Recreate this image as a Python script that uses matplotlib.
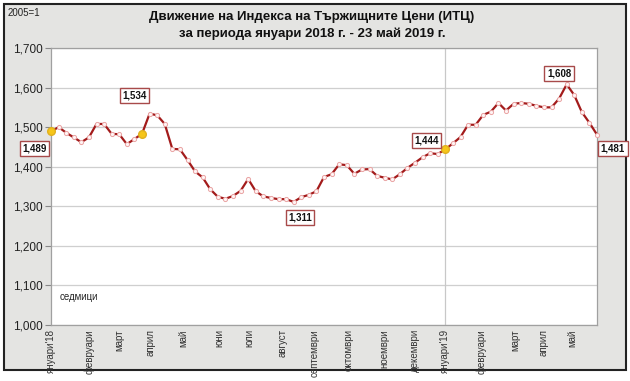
import matplotlib
matplotlib.use("Agg")
import matplotlib.pyplot as plt
from matplotlib.patches import Rectangle
from matplotlib.ticker import FuncFormatter

plt.rcParams['font.family'] = ['Liberation Sans', 'DejaVu Sans']

# weekly index values, Jan 2018 - 23 May 2019
itc = [1.489, 1.500, 1.486, 1.474, 1.462, 1.474, 1.508, 1.508, 1.483, 1.482,
       1.457, 1.470, 1.483, 1.534, 1.530, 1.508, 1.445, 1.444, 1.417, 1.388,
       1.373, 1.343, 1.324, 1.319, 1.326, 1.339, 1.369, 1.338, 1.325, 1.321,
       1.318, 1.318, 1.311, 1.323, 1.329, 1.338, 1.374, 1.381, 1.406, 1.404,
       1.382, 1.393, 1.394, 1.377, 1.372, 1.368, 1.381, 1.397, 1.410, 1.424,
       1.434, 1.432, 1.444, 1.459, 1.475, 1.506, 1.506, 1.531, 1.539, 1.561,
       1.542, 1.559, 1.561, 1.559, 1.554, 1.550, 1.550, 1.572, 1.608, 1.581,
       1.538, 1.511, 1.481]

month_labels = ["януари'18", "февруари", "март", "април", "май", "юни", "юли",
                "август", "септември", "октомври", "ноември", "декември",
                "януари'19", "февруари", "март", "април", "май"]
month_pos = [0, 5.0, 9.0, 13.1, 17.5, 22.2, 26.2, 30.5, 34.8, 39.2, 44.0,
             48.0, 52.0, 56.8, 61.2, 64.9, 68.8]

highlight_idx = [0, 12, 52]
year_split_idx = 52

# labelled points: (index, text)
labelled = [(0, "1,489"), (13, "1,534"), (32, "1,311"), (52, "1,444"),
            (68, "1,608"), (72, "1,481")]

W, H = 630, 381
fig = plt.figure(figsize=(W / 100, H / 100), dpi=100)
fig.patch.set_facecolor('white')

# gray background panel with dark frame
bg = Rectangle((4 / W, 1 - 370 / H), 622 / W, 366 / H,
               transform=fig.transFigure, facecolor='#e4e4e2',
               edgecolor='#222222', linewidth=1.5, zorder=-10)
fig.add_artist(bg)

ax = fig.add_axes([51 / W, 1 - 325 / H, 546 / W, 277 / H])
ax.set_zorder(1)
ax.set_facecolor('white')

x = list(range(len(itc)))
ax.plot(x, itc, color='#a31b1b', linewidth=1.6, zorder=3, clip_on=False)
ax.plot(x, itc, linestyle='none', marker='o', markersize=3,
        markerfacecolor='#fff4f4', markeredgecolor='#e9a3a3',
        markeredgewidth=0.7, zorder=4, clip_on=False)
ax.plot([x[i] for i in highlight_idx], [itc[i] for i in highlight_idx],
        linestyle='none', marker='o', markersize=5.5,
        markerfacecolor='#f6c619', markeredgecolor='#e0b020', zorder=5,
        clip_on=False)

ax.axvline(year_split_idx, color='#c8c8c8', linewidth=0.9, zorder=1)

ax.set_xlim(0, len(itc) - 1)
ax.set_ylim(1.0, 1.7)
ax.set_yticks([1.0, 1.1, 1.2, 1.3, 1.4, 1.5, 1.6, 1.7])
ax.yaxis.set_major_formatter(FuncFormatter(lambda v, p: f"{v:.3f}".replace('.', ',')))
ax.yaxis.grid(True, color='#cfcfcf', linewidth=0.9)
ax.set_axisbelow(True)
ax.tick_params(axis='y', labelsize=8.5, length=4, color='#888888', pad=2,
               labelcolor='#222222')

ax.set_xticks(month_pos)
ax.set_xticklabels(month_labels, rotation=90, fontsize=7, color='#333333')
ax.tick_params(axis='x', length=0, pad=3)

for s in ax.spines.values():
    s.set_color('#a0a0a0')
    s.set_linewidth(0.9)

# label boxes (offsets in points)
offsets = {0: (-12, -12.5), 13: (-11, 13), 32: (4.5, -11.5), 52: (-13.5, 6.5),
           68: (-5.5, 8), 72: (11.5, -10)}
for i, txt in labelled:
    dx, dy = offsets[i]
    ax.annotate(txt, (x[i], itc[i]), xytext=(dx, dy), textcoords='offset points',
                ha='center', va='center', fontsize=7, fontweight='bold',
                color='#111111', annotation_clip=False, zorder=6,
                bbox=dict(boxstyle='square,pad=0.25', facecolor='white',
                          edgecolor='#a84a4a', linewidth=1.0))

ax.text(0.015, 0.10, "седмици", transform=ax.transAxes, fontsize=7,
        color='#222222', va='center', ha='left')

fig.text(312 / W, 1 - 17 / H, "Движение на Индекса на Тържищните Цени (ИТЦ)",
         ha='center', va='center', fontsize=9.5, fontweight='bold', color='#111111')
fig.text(312 / W, 1 - 34 / H, "за периода януари 2018 г. - 23 май 2019 г.",
         ha='center', va='center', fontsize=9.5, fontweight='bold', color='#111111')
fig.text(8 / W, 1 - 13 / H, "2005=1", ha='left', va='center', fontsize=7,
         color='#222222')

fig.savefig("out.png", dpi=100, facecolor=fig.get_facecolor())
